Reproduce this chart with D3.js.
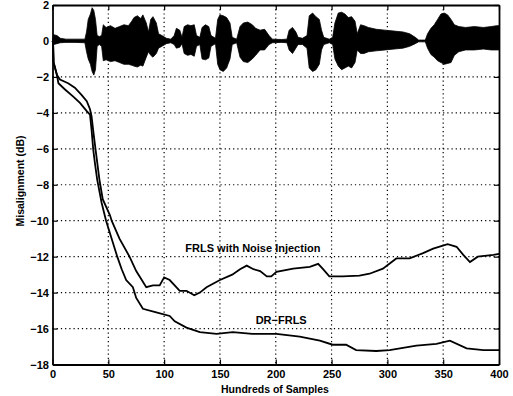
<!DOCTYPE html>
<html>
<head>
<meta charset="utf-8">
<script src="https://cdn.jsdelivr.net/npm/d3@7"></script>
<style>
  body { margin: 0; background: #fff; }
  svg { display: block; }
  text { font-family: "Liberation Sans", Arial, sans-serif; font-weight: bold; fill: #000; }
</style>
</head>
<body>
<div id="chart"></div>
<script>
// tick labels
const xTicks = [0, 50, 100, 150, 200, 250, 300, 350, 400];
const yTicks = [2, 0, -2, -4, -6, -8, -10, -12, -14, -16, -18];

// speech signal envelope (upper / lower)
const speechX = [0, 1, 4, 7, 12, 20, 29, 30.5, 32, 34, 35.5, 37, 38.5, 40, 42, 44, 45.5, 48, 52, 56, 60, 64, 68, 71, 73, 76, 79, 81, 84, 86, 88, 90, 93, 95, 98, 102, 106, 109, 111, 114, 116, 118, 121, 124, 127, 129, 132, 134, 137, 140, 142, 146, 148, 150, 153, 156, 159, 161, 165, 168, 171, 175, 179, 182, 186, 190, 194, 197, 205, 210, 212, 215, 218, 220, 224, 228, 230, 233, 236, 239, 241, 243, 248, 251, 253, 256, 259, 262, 265, 268, 271, 273, 276, 279, 283, 290, 298, 306, 314, 320, 325, 328, 334, 336, 339, 342, 345, 348, 351, 354, 357, 360, 364, 370, 378, 386, 393, 398, 400];
const speechHi = [0.05, 0.35, 0.3, 0.15, 0.1, 0.1, 0.1, 0.5, 1.2, 1.5, 1.85, 1.7, 1.2, 0.3, 0.25, 0.3, 0.9, 0.75, 0.85, 0.7, 0.8, 0.9, 0.85, 1.1, 1.3, 1.4, 1.25, 1.45, 1.0, 0.5, 1.2, 1.35, 1.0, 0.4, 0.3, 0.15, 0.1, 0.3, 0.7, 0.6, 0.2, 0.8, 0.9, 0.85, 0.9, 0.3, 0.2, 0.75, 0.9, 0.8, 0.3, 0.15, 1.2, 1.45, 1.4, 1.3, 1.0, 0.2, 0.1, 0.8, 1.0, 1.05, 0.9, 0.7, 0.6, 0.65, 0.3, 0.1, 0.08, 0.1, 0.6, 0.75, 0.5, 0.2, 0.15, 0.3, 1.4, 1.55, 1.35, 1.2, 0.6, 0.2, 0.1, 0.2, 1.0, 1.55, 1.6, 1.5, 1.3, 1.35, 1.1, 0.4, 0.9, 0.85, 0.75, 0.65, 0.6, 0.55, 0.5, 0.4, 0.2, 0.05, 0.05, 0.4, 0.7, 0.9, 1.2, 1.5, 1.55, 1.45, 1.2, 0.9, 0.8, 0.75, 0.8, 0.75, 0.8, 0.85, 0.85];
const speechLo = [-0.05, -0.2, -0.15, -0.1, -0.08, -0.08, -0.1, -0.6, -1.0, -1.3, -1.7, -1.9, -1.6, -0.3, -0.2, -0.3, -1.1, -1.05, -1.15, -1.1, -1.2, -1.3, -1.3, -1.35, -1.4, -1.45, -1.35, -1.4, -0.9, -0.6, -0.8, -0.9, -0.7, -0.4, -0.3, -0.15, -0.1, -0.2, -0.4, -0.35, -0.15, -0.7, -0.8, -0.75, -0.85, -0.3, -0.2, -1.0, -1.05, -0.95, -0.3, -0.15, -1.3, -1.6, -1.7, -1.5, -1.0, -0.2, -0.1, -0.9, -1.15, -1.2, -1.0, -0.8, -0.5, -0.5, -0.2, -0.1, -0.08, -0.1, -0.5, -0.7, -0.4, -0.2, -0.2, -0.4, -1.5, -1.7, -1.6, -1.3, -0.5, -0.2, -0.1, -0.2, -1.0, -1.4, -1.6, -1.5, -1.4, -1.5, -1.2, -0.5, -0.7, -0.7, -0.6, -0.55, -0.5, -0.45, -0.4, -0.3, -0.15, -0.05, -0.05, -0.4, -0.75, -0.9, -1.1, -1.2, -1.3, -1.25, -1.2, -0.8, -0.6, -0.5, -0.5, -0.45, -0.5, -0.5, -0.5];

// FRLS with noise injection
const niX = [0, 0.5, 1, 4, 6.7, 14, 20, 26, 30.7, 33.6, 35, 36.5, 38.5, 42, 45, 51.5, 53, 60, 69, 75, 80, 84, 90, 96, 100, 105, 114, 120, 127, 132, 138, 150, 161, 168, 174, 180, 186, 192, 196, 200.6, 215.6, 230.5, 238, 242, 248, 260, 275, 284, 296, 308, 320, 332, 341, 349, 354, 362, 368, 374, 381, 395, 400];
const niY = [0, -0.1, -1.2, -1.9, -2.15, -2.35, -2.6, -3.0, -3.35, -3.8, -4.2, -5.0, -6.0, -7.7, -8.8, -9.7, -10.0, -11.0, -12.0, -12.8, -13.3, -13.7, -13.6, -13.6, -13.15, -13.3, -13.9, -13.9, -14.15, -14.0, -13.7, -13.3, -13.0, -12.7, -12.5, -12.7, -12.8, -13.1, -13.1, -12.85, -12.67, -12.57, -12.4, -12.67, -13.1, -13.1, -13.05, -12.95, -12.67, -12.1, -12.1, -11.8, -11.55, -11.4, -11.3, -11.45, -11.9, -12.3, -12.0, -11.9, -11.85];

// DR-FRLS
const drX = [0, 0.5, 1, 4, 5.3, 11.2, 18.6, 24.6, 30.7, 33.6, 35, 36.5, 38, 40, 44, 48, 53, 58, 62, 66, 72, 75, 81, 93, 105, 109.5, 120, 132, 147, 161.5, 179, 200.6, 221.5, 239.5, 251, 263, 272, 290, 302, 326, 344, 356, 371, 386, 400];
const drY = [0, -0.1, -1.2, -1.9, -2.35, -2.7, -3.1, -3.45, -3.9, -4.1, -4.95, -6.05, -6.8, -7.7, -9.0, -10.0, -11.0, -12.0, -12.7, -13.3, -13.7, -14.3, -14.9, -15.1, -15.3, -15.6, -15.95, -16.2, -16.3, -16.2, -16.3, -16.3, -16.45, -16.67, -16.9, -16.9, -17.2, -17.25, -17.2, -16.95, -16.85, -16.67, -17.1, -17.2, -17.2];

const svgWidth = 513, svgHeight = 396;
const margin = { top: 5, right: 14, bottom: 31.5, left: 52.5 };
const width = svgWidth - margin.left - margin.right;
const height = svgHeight - margin.top - margin.bottom;

const svg = d3.select('#chart').append('svg')
  .attr('width', svgWidth)
  .attr('height', svgHeight);

const g = svg.append('g')
  .attr('transform', `translate(${margin.left},${margin.top})`);

const x = d3.scaleLinear().domain([0, 400]).range([0, width]);
const y = d3.scaleLinear().domain([-18, 2]).range([height, 0]);

// dotted grid
g.append('g')
  .selectAll('line')
  .data(xTicks.slice(1, -1))
  .enter().append('line')
  .attr('x1', d => x(d)).attr('x2', d => x(d))
  .attr('y1', 0).attr('y2', height)
  .attr('stroke', '#000').attr('stroke-width', 1.2)
  .attr('stroke-dasharray', '1.2,3');

g.append('g')
  .selectAll('line')
  .data(yTicks.slice(1, -1))
  .enter().append('line')
  .attr('x1', 0).attr('x2', width)
  .attr('y1', d => y(d)).attr('y2', d => y(d))
  .attr('stroke', '#000').attr('stroke-width', 1.2)
  .attr('stroke-dasharray', '1.2,3');

// speech waveform
const speech = speechX.map((d, i) => ({ x: d, hi: speechHi[i], lo: speechLo[i] }));
g.append('path')
  .datum(speech)
  .attr('d', d3.area().x(d => x(d.x)).y0(d => y(d.lo)).y1(d => y(d.hi)))
  .attr('fill', '#000')
  .attr('stroke', '#000')
  .attr('stroke-width', 0.8);

const line = d3.line().x(d => x(d[0])).y(d => y(d[1]));

g.append('path')
  .datum(niX.map((d, i) => [d, niY[i]]))
  .attr('d', line)
  .attr('fill', 'none')
  .attr('stroke', '#000')
  .attr('stroke-width', 1.8);

g.append('path')
  .datum(drX.map((d, i) => [d, drY[i]]))
  .attr('d', line)
  .attr('fill', 'none')
  .attr('stroke', '#000')
  .attr('stroke-width', 1.8);

// axes (MATLAB style, ticks inward)
const fmt = d => d < 0 ? '\u2212' + Math.abs(d) : String(d);

g.append('g')
  .attr('transform', `translate(0,${height})`)
  .call(d3.axisBottom(x).tickValues(xTicks).tickFormat(fmt).tickSizeInner(-5).tickSizeOuter(0).tickPadding(6));

g.append('g')
  .call(d3.axisLeft(y).tickValues(yTicks).tickFormat(fmt).tickSizeInner(-5).tickSizeOuter(0).tickPadding(3.5));

g.append('g')
  .call(d3.axisTop(x).tickValues(xTicks).tickFormat('').tickSizeInner(-5).tickSizeOuter(0));

g.append('g')
  .attr('transform', `translate(${width},0)`)
  .call(d3.axisRight(y).tickValues(yTicks).tickFormat('').tickSizeInner(-5).tickSizeOuter(0));

g.selectAll('.domain').attr('stroke', '#000').attr('stroke-width', 1.8);
g.selectAll('.tick line').attr('stroke', '#000').attr('stroke-width', 1.2);
g.selectAll('.tick text').attr('font-size', 11).attr('font-weight', 'bold')
  .attr('font-family', '"Liberation Sans", Arial, sans-serif');

// axis titles
svg.append('text')
  .attr('x', 275)
  .attr('y', 393)
  .attr('text-anchor', 'middle')
  .attr('font-size', 10.5)
  .text('Hundreds of Samples');

svg.append('text')
  .attr('transform', 'translate(24,181) rotate(-90)')
  .attr('text-anchor', 'middle')
  .attr('font-size', 10.5)
  .text('Misalignment (dB)');

// curve labels
g.append('text')
  .attr('x', x(119))
  .attr('y', y(-11.74))
  .attr('font-size', 11)
  .text('FRLS with Noise Injection');

g.append('text')
  .attr('x', x(182))
  .attr('y', y(-15.75))
  .attr('font-size', 11)
  .text('DR\u2212FRLS');
</script>
</body>
</html>
